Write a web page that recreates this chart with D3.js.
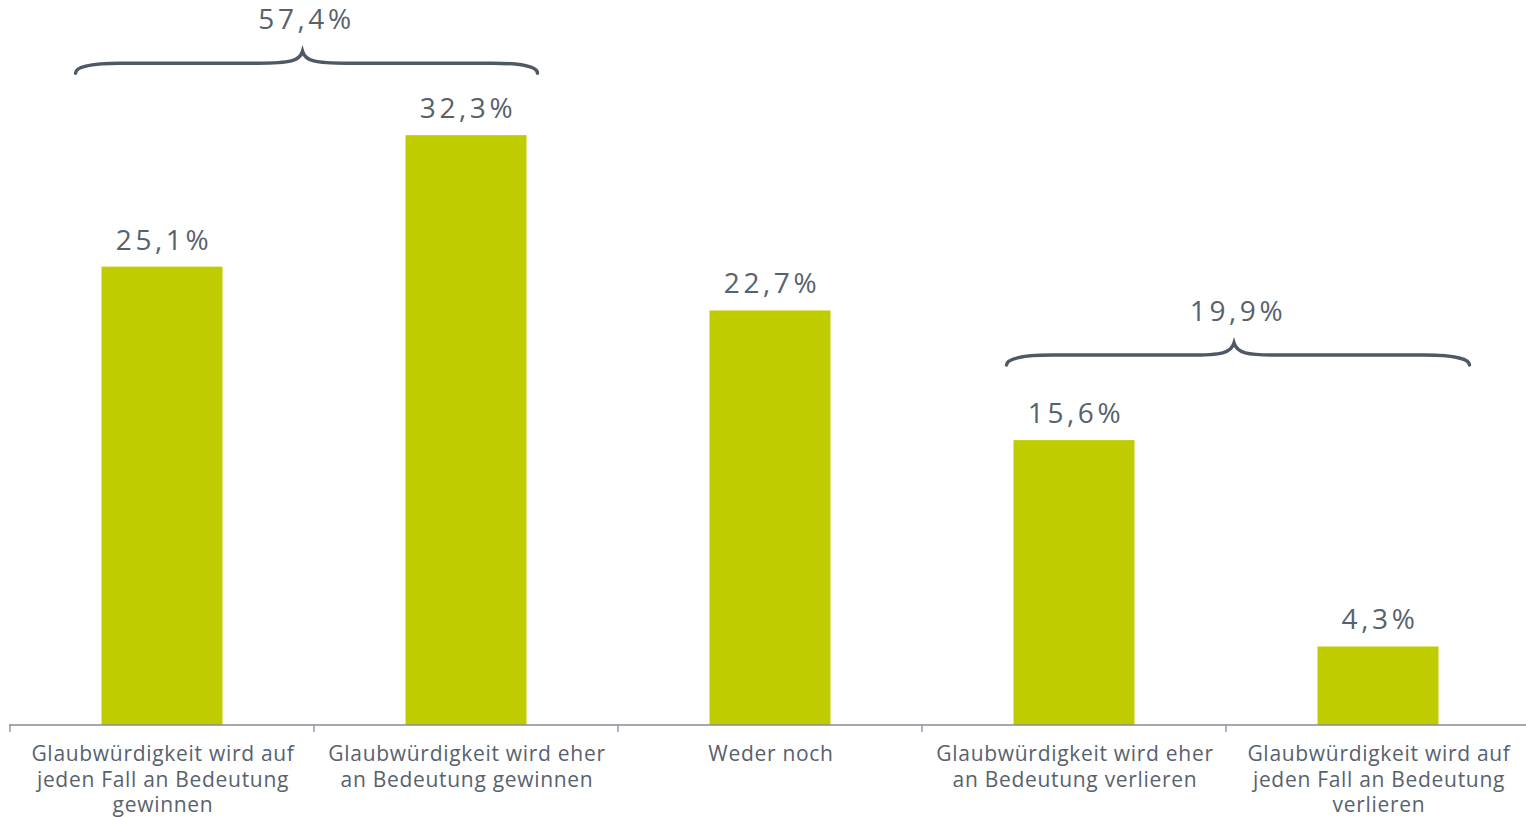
<!DOCTYPE html>
<html>
<head>
    <meta charset="UTF-8">
    <title>Glaubwürdigkeit</title>
    <script src="https://cdn.jsdelivr.net/npm/d3@7"></script>
    <style>
        body{margin:0;background:#fff;}
        .bar{fill:#bfcd00;}
        .val{font-family:"Open Sans",sans-serif;font-size:28px;fill:#58626d;letter-spacing:3.6px;}
        .cat{font-family:"Open Sans",sans-serif;font-size:21px;fill:#58626d;letter-spacing:0.7px;}
        .brace{fill:none;stroke:#4e5965;stroke-width:3.5px;stroke-linecap:round;}
        .axis line{stroke:#848c95;stroke-width:1.3px;}
    </style>
</head>
<body>
<div id="chart"></div>
<script>
    // data
    var categories=[
        ['Glaubwürdigkeit wird auf','jeden Fall an Bedeutung','gewinnen'],
        ['Glaubwürdigkeit wird eher','an Bedeutung gewinnen'],
        ['Weder noch'],
        ['Glaubwürdigkeit wird eher','an Bedeutung verlieren'],
        ['Glaubwürdigkeit wird auf','jeden Fall an Bedeutung','verlieren']
    ];
    var values=[25.1,32.3,22.7,15.6,4.3];
    var groupFirst=[0,3];
    var groupLast=[1,4];
    var groupValues=[57.4,19.9];

    var width=1526,height=817;
    var baseY=725;
    var fmt=function(v){return v.toFixed(1).replace('.',',')+'%';};

    var svg=d3.select('#chart').append('svg')
            .attr('width',width)
            .attr('height',height);

    var idx=d3.range(categories.length);
    var x=d3.scaleBand().domain(idx).range([10,1530]).paddingInner(0).paddingOuter(0);
    var y=d3.scaleLinear().domain([0,39.7]).range([baseY,0]);
    var bw=x.step()*0.398;
    var cx=function(i){return x(i)+x.bandwidth()/2;};

    svg.selectAll('rect.bar')
            .data(values)
            .enter()
            .append('rect')
            .attr('class','bar')
            .attr('x',function(d,i){return cx(i)-bw/2;})
            .attr('width',bw)
            .attr('y',function(d){return y(d);})
            .attr('height',function(d){return baseY-y(d);});

    svg.selectAll('text.val')
            .data(values)
            .enter()
            .append('text')
            .attr('class','val')
            .attr('x',function(d,i){return cx(i)+2;})
            .attr('y',function(d){return y(d)-17;})
            .attr('text-anchor','middle')
            .text(fmt);

    // axis: line with ticks at band edges
    var g=svg.append('g').attr('class','axis');
    g.append('line').attr('x1',9).attr('x2',width).attr('y1',baseY).attr('y2',baseY);
    g.selectAll('line.tick')
            .data(idx)
            .enter()
            .append('line')
            .attr('class','tick')
            .attr('x1',function(d){return x(d);})
            .attr('x2',function(d){return x(d);})
            .attr('y1',baseY)
            .attr('y2',baseY+7);

    var cat=svg.selectAll('text.cat')
            .data(categories)
            .enter()
            .append('text')
            .attr('class','cat')
            .attr('text-anchor','middle')
            .attr('transform',function(d,i){return 'translate('+(cx(i)+1)+','+(baseY+36)+')';});
    cat.selectAll('tspan')
            .data(function(d){return d;})
            .enter()
            .append('tspan')
            .attr('x',0)
            .attr('y',function(d,i){return i*25.5;})
            .text(function(d){return d;});

    // braces over grouped bars
    function bracePath(x0,x1,yb){
        var xm=(x0+x1)/2-4;
        return 'M'+x0+','+(yb+10)
            +'C'+x0+','+(yb+3)+' '+(x0+18)+','+yb+' '+(x0+45)+','+yb
            +'L'+(xm-45)+','+yb
            +'C'+(xm-12)+','+yb+' '+(xm-3)+','+(yb-2)+' '+xm+','+(yb-12)
            +'C'+(xm+3)+','+(yb-2)+' '+(xm+12)+','+yb+' '+(xm+45)+','+yb
            +'L'+(x1-45)+','+yb
            +'C'+(x1-18)+','+yb+' '+x1+','+(yb+3)+' '+x1+','+(yb+10);
    }
    groupValues.forEach(function(v,k){
        var a=groupFirst[k],b=groupLast[k];
        var top=y(d3.max(values.slice(a,b+1)));
        var yb=top-(k==0?72:85);
        var x0=cx(a)-bw/2-26;
        var x1=cx(b)+bw/2+11;
        if(k==1){x0+=19;x1+=20;}
        svg.append('path').attr('class','brace').attr('d',bracePath(x0,x1,yb));
        svg.append('text')
                .attr('class','val')
                .attr('x',(x0+x1)/2)
                .attr('y',yb-34)
                .attr('text-anchor','middle')
                .text(fmt(v));
    });
</script>
</body>
</html>
